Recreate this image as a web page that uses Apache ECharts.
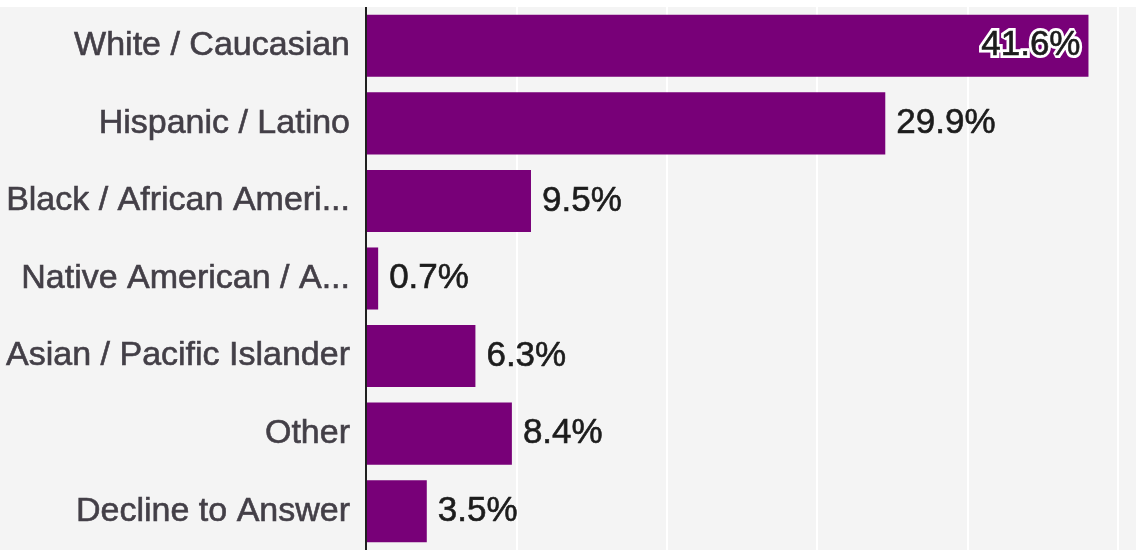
<!DOCTYPE html>
<html>
<head>
<meta charset="utf-8">
<script src="https://cdn.jsdelivr.net/npm/echarts@6/dist/echarts.min.js"></script>
<style>
  html, body { margin: 0; padding: 0; background: #ffffff; }
  #chart { width: 1136px; height: 543px; margin-top: 7px; }
</style>
</head>
<body>
<div id="chart"></div>
<script>
// Survey respondents by race / ethnicity (share of total, %)
const categories = [
  'White / Caucasian',
  'Hispanic / Latino',
  'Black / African Ameri...',
  'Native American / A...',
  'Asian / Pacific Islander',
  'Other',
  'Decline to Answer'
];
const shares = [41.6, 29.9, 9.5, 0.7, 6.3, 8.4, 3.5];

// Value axis layout: five equal gridline steps
const axisMax = 43.3;
const axisStep = 8.66;

const barColor = '#780078';
const textDark = '#1c1c1c';
const fontFamily = '"Liberation Sans", Arial, sans-serif';
const fmt = p => p.value.toFixed(1) + '%';

// Long bars carry their label inside the bar, the rest sit past the bar end
const isInside = v => v > axisMax * 0.85;

// Base bars: outside labels in dark text, inside labels drawn as a white halo
const barData = shares.map(v => isInside(v)
  ? { value: v, label: { position: 'insideRight', distance: 8, color: '#ffffff',
      textBorderColor: '#ffffff', textBorderWidth: 6 } }
  : { value: v });

// Transparent overlay bars: dark text on top of the halo for inside labels
const overlayData = shares.map(v => isInside(v)
  ? { value: v, label: { show: true } }
  : { value: v, label: { show: false } });

const labelFont = { fontSize: 35, fontFamily: fontFamily };

const chart = echarts.init(document.getElementById('chart'), null, { renderer: 'canvas' });
chart.setOption({
  backgroundColor: '#f4f4f4',
  animation: false,
  grid: { left: 366, right: 18, top: 0, bottom: -3, containLabel: false },
  xAxis: {
    type: 'value',
    min: 0,
    max: axisMax,
    interval: axisStep,
    axisLabel: { show: false },
    axisTick: { show: false },
    axisLine: { show: false },
    splitLine: { show: true, lineStyle: { color: '#ffffff', width: 2 } }
  },
  yAxis: {
    type: 'category',
    inverse: true,
    data: categories,
    z: 5,
    axisTick: { show: false },
    axisLine: { show: true, lineStyle: { color: '#1f1f1f', width: 2 } },
    axisLabel: {
      margin: 16,
      color: '#433f47',
      fontSize: 34,
      fontFamily: fontFamily,
      textBorderColor: '#433f47',
      textBorderWidth: 0.6
    }
  },
  series: [{
    type: 'bar',
    data: barData,
    barCategoryGap: '20%',
    itemStyle: { color: barColor },
    label: Object.assign({
      show: true,
      position: 'right',
      distance: 11,
      color: textDark,
      textBorderColor: textDark,
      textBorderWidth: 0.6,
      formatter: fmt
    }, labelFont)
  }, {
    type: 'bar',
    data: overlayData,
    barGap: '-100%',
    barCategoryGap: '20%',
    silent: true,
    itemStyle: { color: 'rgba(0,0,0,0)' },
    label: Object.assign({
      position: 'insideRight',
      distance: 8,
      color: textDark,
      textBorderColor: textDark,
      textBorderWidth: 0.6,
      formatter: fmt
    }, labelFont)
  }]
});
</script>
</body>
</html>
